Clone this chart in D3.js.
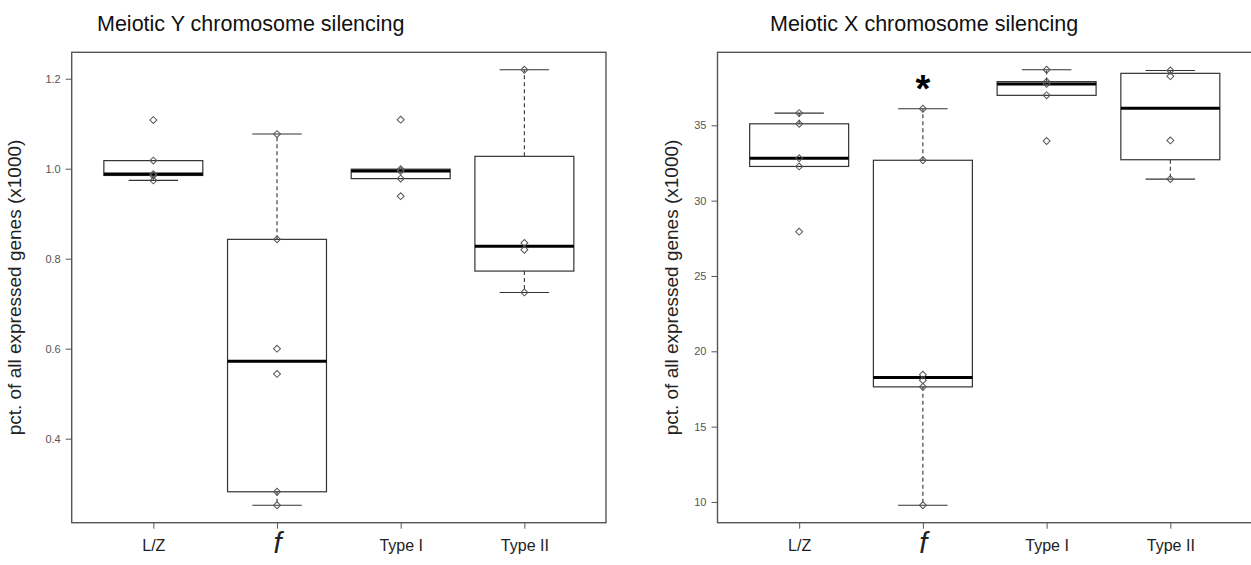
<!DOCTYPE html>
<html>
<head>
<meta charset="utf-8">
<script src="https://cdn.jsdelivr.net/npm/d3@7"></script>
<style>
  html, body { margin: 0; padding: 0; background: #fff; }
  svg { display: block; font-family: "Liberation Sans", Arial, sans-serif; }
</style>
</head>
<body>
<div id="chart"></div>
<script>
// groups on the x axis
const groups = ["L/Z", "f", "Type I", "Type II"];

// Meiotic Y chromosome silencing, pct. of all expressed genes (x1000)
const yLZ = [1.108, 1.018, 0.988, 0.985, 0.974];
const yF = [1.077, 0.843, 0.600, 0.544, 0.282, 0.252];
const yTypeI = [1.109, 0.999, 0.995, 0.978, 0.939];
const yTypeII = [1.220, 0.835, 0.820, 0.725];
const yTicks = [0.4, 0.6, 0.8, 1.0, 1.2];

// Meiotic X chromosome silencing
const xLZ = [35.81, 35.10, 32.82, 32.27, 27.94];
const xF = [36.10, 32.68, 18.45, 18.08, 17.64, 9.78];
const xTypeI = [38.69, 37.90, 37.75, 36.99, 33.96];
const xTypeII = [38.64, 38.26, 34.00, 31.43];
const xTicks = [10, 15, 20, 25, 30, 35];

const titles = ["Meiotic Y chromosome silencing", "Meiotic X chromosome silencing"];
const yLabel = "pct. of all expressed genes (x1000)";
const signif = [[], ["f"]]; // groups marked with *

const W = 1251, H = 565;
const plotTop = 52.3, plotBottom = 522.7;

const panels = [
  { title: titles[0], data: [yLZ, yF, yTypeI, yTypeII], ticks: yTicks, fmt: d3.format(".1f"),
    x0: 71.7, x1: 606, titleX: 97, labelX: 21, stars: signif[0] },
  { title: titles[1], data: [xLZ, xF, xTypeI, xTypeII], ticks: xTicks, fmt: d3.format("d"),
    x0: 717.5, x1: 1252, titleX: 770, labelX: 678, stars: signif[1] }
];

// R's fivenum (Tukey hinges)
function fivenum(v) {
  const x = v.slice().sort(d3.ascending);
  const n = x.length;
  const n4 = Math.floor((n + 3) / 2) / 2;
  const d = [1, n4, (n + 1) / 2, n + 1 - n4, n];
  return d.map(i => 0.5 * (x[Math.floor(i) - 1] + x[Math.ceil(i) - 1]));
}

function boxStats(v) {
  const f = fivenum(v);
  const iqr = f[3] - f[1];
  const lo = d3.min(v.filter(d => d >= f[1] - 1.5 * iqr));
  const hi = d3.max(v.filter(d => d <= f[3] + 1.5 * iqr));
  return { q1: f[1], med: f[2], q3: f[3], lo, hi };
}

const svg = d3.select("#chart").append("svg")
  .attr("width", W).attr("height", H);

panels.forEach(p => {
  const all = p.data.flat();
  const [mn, mx] = d3.extent(all);
  const pad = (mx - mn) * 0.04;
  const y = d3.scaleLinear().domain([mn - pad, mx + pad]).range([plotBottom, plotTop]);
  const x = d3.scaleLinear().domain([0.34, 4.66]).range([p.x0, p.x1]);
  const unit = x(1) - x(0);

  const g = svg.append("g");

  // title
  g.append("text")
    .attr("x", p.titleX).attr("y", 31)
    .attr("font-size", 21.5).attr("fill", "#111")
    .text(p.title);

  // y label
  g.append("text")
    .attr("transform", `translate(${p.labelX},${(plotTop + plotBottom) / 2}) rotate(-90)`)
    .attr("text-anchor", "middle")
    .attr("font-size", 19).attr("fill", "#222")
    .text(yLabel);

  // axes
  const yAxis = d3.axisLeft(y).tickValues(p.ticks).tickFormat(p.fmt).tickSize(6).tickPadding(5);
  g.append("g").attr("transform", `translate(${p.x0},0)`).call(yAxis)
    .call(a => a.select(".domain").remove())
    .call(a => a.selectAll("line").attr("stroke", "#555"))
    .call(a => a.selectAll("text").attr("font-size", 11).attr("fill", "#555")
      .attr("font-family", "Liberation Sans, Arial, sans-serif"));

  const xAxis = d3.axisBottom(x).tickValues([1, 2, 3, 4]).tickFormat((d, i) => groups[i]).tickSize(6).tickPadding(6);
  g.append("g").attr("transform", `translate(0,${plotBottom})`).call(xAxis)
    .call(a => a.select(".domain").remove())
    .call(a => a.selectAll("line").attr("stroke", "#555"))
    .call(a => a.selectAll("text").attr("font-size", 16).attr("fill", "#222").attr("dy", "1.05em")
      .attr("font-family", "Liberation Sans, Arial, sans-serif")
      .filter((d, i) => groups[i] === "f")
      .attr("font-size", 29).attr("font-style", "italic").attr("dy", "0.62em"));

  // frame
  g.append("rect")
    .attr("x", p.x0).attr("y", plotTop)
    .attr("width", p.x1 - p.x0).attr("height", plotBottom - plotTop)
    .attr("fill", "none").attr("stroke", "#555").attr("stroke-width", 1.4);

  // boxes
  p.data.forEach((v, i) => {
    const s = boxStats(v);
    const cx = x(i + 1);
    const bw = 0.4 * unit, sw = 0.2 * unit;
    const b = g.append("g").attr("stroke", "#333").attr("fill", "none");

    // whiskers
    [[s.q3, s.hi], [s.q1, s.lo]].forEach(([from, to]) => {
      if (from === to) return;
      b.append("line").attr("x1", cx).attr("x2", cx)
        .attr("y1", y(from)).attr("y2", y(to))
        .attr("stroke-dasharray", "4,3").attr("stroke-width", 1.1);
      b.append("line").attr("x1", cx - sw).attr("x2", cx + sw)
        .attr("y1", y(to)).attr("y2", y(to)).attr("stroke-width", 1.1);
    });

    b.append("rect")
      .attr("x", cx - bw).attr("y", y(s.q3))
      .attr("width", 2 * bw).attr("height", y(s.q1) - y(s.q3))
      .attr("stroke-width", 1.2);

    b.append("line")
      .attr("x1", cx - bw).attr("x2", cx + bw)
      .attr("y1", y(s.med)).attr("y2", y(s.med))
      .attr("stroke", "#000").attr("stroke-width", 3);

    // points (open diamonds)
    g.append("g").selectAll("path").data(v).join("path")
      .attr("d", d3.symbol(d3.symbolSquare, 24))
      .attr("transform", d => `translate(${cx},${y(d)}) rotate(45)`)
      .attr("fill", "none").attr("stroke", "#555").attr("stroke-width", 1);

    if (p.stars.includes(groups[i])) {
      g.append("text")
        .attr("x", cx).attr("y", y(s.hi) - 7)
        .attr("text-anchor", "middle")
        .attr("font-size", 38).attr("font-weight", "bold").attr("fill", "#000")
        .text("*");
    }
  });
});
</script>
</body>
</html>
